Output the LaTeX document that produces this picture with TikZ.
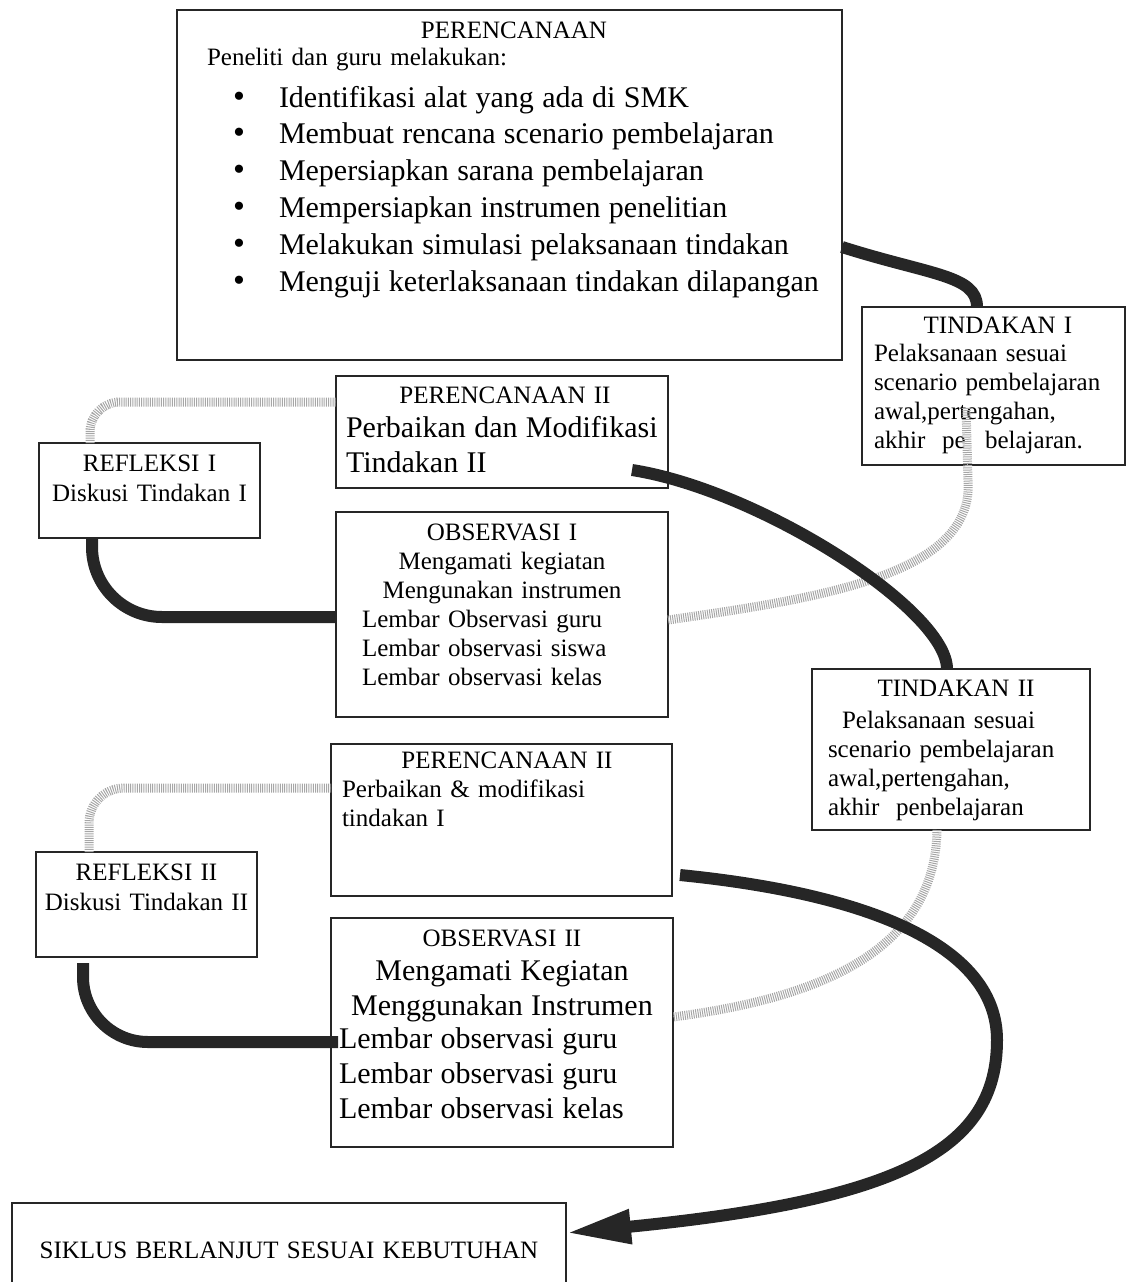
\documentclass[tikz,border=0pt]{standalone}
\usepackage{fontspec}
\setmainfont{Liberation Serif}
\usetikzlibrary{arrows.meta,
                positioning
                }
\newcommand\txtlarge{\fontsize{30}{30}\selectfont}
\newcommand\bitem[1]{\hspace*{56pt}\makebox[46pt][l]{\fontsize{34}{30}\selectfont\textbullet}{\txtlarge #1}}

\begin{document}
\begin{tikzpicture}[
    x = 1pt, y = -1pt,
    box/.style = {draw=black!85, line width=1.6pt, anchor=north west,
                  inner sep=0pt, outer sep=0pt, align=left,
                  font=\fontsize{25}{#1}\selectfont},
    link/.style = {draw=black!85, line width=12pt},
    dots/.style = {draw=black!35, line width=9pt, dash pattern=on 1pt off 1.2pt,
                   preaction={draw=white, solid}}
                    ]
\useasboundingbox (0,0) rectangle (1129,1282);
\clip (0,0) rectangle (1129,1282);
% boxes
\node (plan) [box=30pt, text width=665pt, text height=28pt, text depth=322pt] at (177,10)
    {\makebox[\linewidth]{\hspace{9pt}PERENCANAAN}\\[-3pt]
     \hspace*{30pt}Peneliti dan guru melakukan:\\[12pt]
     \bitem{Identifikasi alat yang ada di SMK}\\[6.8pt]
     \bitem{Membuat rencana scenario pembelajaran}\\[6.8pt]
     \bitem{Mepersiapkan sarana pembelajaran}\\[6.8pt]
     \bitem{Mempersiapkan instrumen penelitian}\\[6.8pt]
     \bitem{Melakukan simulasi pelaksanaan tindakan}\\[6.8pt]
     \bitem{Menguji keterlaksanaan tindakan dilapangan}};
\node (tin1) [box=28.8pt, text width=263pt, text height=26pt, text depth=132pt] at (862,307)
    {\makebox[\linewidth]{\hspace{9pt}TINDAKAN I}\\
     \hspace*{12pt}Pelaksanaan sesuai\\
     \hspace*{12pt}scenario pembelajaran\\
     \hspace*{12pt}awal,pertengahan,\\
     \hspace*{12pt}akhir~ pe\phantom{m}belajaran.};
\node (per1) [box=30pt, text width=332pt, text height=27pt, text depth=85pt] at (336,376)
    {\makebox[\linewidth]{\hspace{6pt}PERENCANAAN II}\\[4pt]
     \hspace*{10pt}{\txtlarge Perbaikan dan Modifikasi}\\[5pt]
     \hspace*{10pt}{\txtlarge Tindakan II}};
\node (ref1) [box=30pt, align=center, text width=221pt, text height=28pt, text depth=67pt] at (39,443)
    {REFLEKSI I\\ Diskusi Tindakan I};
\node (obs1) [box=29pt, text width=332pt, text height=28pt, text depth=177pt,
              below=24pt of per1.south west, anchor=north west]
    {\makebox[\linewidth]{OBSERVASI I}\\
     \makebox[\linewidth]{Mengamati kegiatan}\\
     \makebox[\linewidth]{Mengunakan instrumen}\\
     \hspace*{26pt}Lembar Observasi guru\\
     \hspace*{26pt}Lembar observasi siswa\\
     \hspace*{26pt}Lembar observasi kelas};
\node (tin2) [box=29pt, text width=278pt, text height=27pt, text depth=134pt] at (812,669)
    {\makebox[\linewidth]{\hspace{10pt}TINDAKAN II}\\[3pt]
     \hspace*{30pt}Pelaksanaan sesuai\\
     \hspace*{16pt}scenario pembelajaran\\
     \hspace*{16pt}awal,pertengahan,\\
     \hspace*{16pt}akhir~ penbelajaran};
\node (per2) [box=29pt, text width=341pt, text height=24pt, text depth=128pt] at (331,744)
    {\makebox[\linewidth]{\hspace{11pt}PERENCANAAN II}\\
     \hspace*{11pt}Perbaikan \& modifikasi\\
     \hspace*{11pt}tindakan I};
\node (ref2) [box=30pt, align=center, text width=221pt, text height=28pt, text depth=77pt] at (36,852)
    {REFLEKSI II\\ Diskusi Tindakan II};
\node (obs2) [box=30pt, text width=342pt, text height=28pt, text depth=201pt,
              below=22pt of per2.south west, anchor=north west]
    {\makebox[\linewidth]{OBSERVASI II}\\[4pt]
     \makebox[\linewidth]{\txtlarge Mengamati Kegiatan}\\[5pt]
     \makebox[\linewidth]{\txtlarge Menggunakan Instrumen}\\[3pt]
     \hspace*{8pt}{\txtlarge Lembar observasi guru}\\[5pt]
     \hspace*{8pt}{\txtlarge Lembar observasi guru}\\[5pt]
     \hspace*{8pt}{\txtlarge Lembar observasi kelas}};
\node (siklus) [box=30pt, align=center, text width=554pt, text height=55pt, text depth=42pt] at (12,1203)
    {SIKLUS BERLANJUT SESUAI KEBUTUHAN};
% dotted links
\draw[dots] ([shift={(104,101)}]tin1.north west) -- ++(2,72)
    .. controls +(7,95) and +(152,-22) .. ([shift={(0,108)}]obs1.north east);
\draw[dots, rounded corners=30pt] ([shift={(51,0)}]ref1.north west) |- ([shift={(0,26)}]per1.north west);
\draw[dots] ([shift={(125,0)}]tin2.south west)
    .. controls +(-2,130) and +(128,-17) .. ([shift={(0,99)}]obs2.north east);
\draw[dots, rounded corners=35pt] ([shift={(53,0)}]ref2.north west) |- ([shift={(0,44)}]per2.north west);
% thick links
\draw[link] ([shift={(0,237)}]plan.north east)
    .. controls +(88,28) and +(0,-32) .. ([shift={(115,0)}]tin1.north west);
\draw[link] ([shift={(-36,94)}]per1.north east)
    .. controls +(128,20) and +(0,-59) .. ([shift={(135,0)}]tin2.north west);
\draw[link, rounded corners=70pt] ([shift={(53,0)}]ref1.south west) |- ([shift={(0,105)}]obs1.north west);
\draw[link, rounded corners=65pt] ([shift={(47,6)}]ref2.south west) |- ([shift={(7,124)}]obs2.north west);
\draw[link, -{Triangle[length=65pt, width=32pt]}] ([shift={(8,131)}]per2.north east)
    .. controls +(200,20) and +(0,-90) .. (997,1040)
    .. controls +(0,110) and +(334,-33) .. ([shift={(0,30)}]siklus.north east);
\end{tikzpicture}
\end{document}
